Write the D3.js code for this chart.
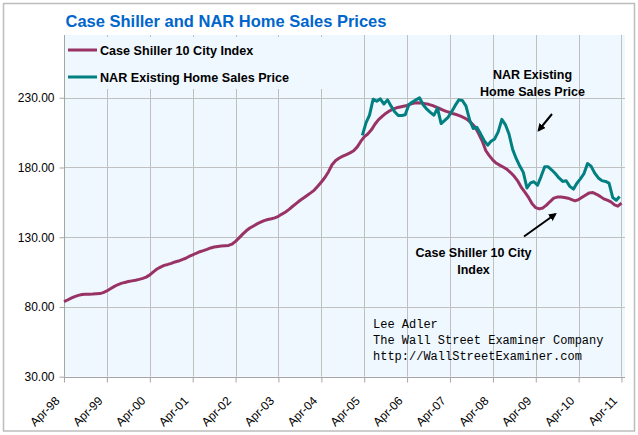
<!DOCTYPE html>
<html>
<head>
<meta charset="utf-8">
<script src="https://cdn.jsdelivr.net/npm/d3@7"></script>
<style>
  body { margin: 0; background: #fff; }
  svg { display: block; font-family: "Liberation Sans", Arial, sans-serif; }
</style>
</head>
<body>
<div id="chart-area"></div>
<script>
// Case Shiller 10 City index, monthly from Apr-98
var csStart = "1998-04-01";
var csValues = [
  83.8, 85.0, 86.3, 87.4, 88.3, 88.9, 89.1, 89.2, 89.3, 89.5, 89.6, 90.3,
  91.5, 93.0, 94.6, 95.9, 96.9, 97.6, 98.2, 98.7, 99.2, 99.8, 100.5, 101.4,
  103.0, 105.2, 107.2, 108.6, 109.8, 110.5, 111.3, 112.3, 112.9, 114.0, 114.9, 116.2,
  117.3, 118.5, 119.6, 120.4, 121.3, 122.3, 123.0, 123.4, 123.7, 123.9, 124.1, 125.0,
  127.0, 129.5, 132.2, 134.6, 136.6, 138.1, 139.6, 140.8, 141.9, 142.7, 143.3, 143.9,
  145.0, 146.6, 148.1, 150.0, 152.2, 154.3, 156.3, 158.1, 159.9, 161.8, 163.8, 166.5,
  169.6, 172.8, 177.0, 182.0, 185.0, 186.8, 188.1, 189.3, 190.5, 192.0, 194.8, 198.5,
  202.0, 204.0, 207.0, 211.0, 214.3, 216.7, 218.8, 220.5, 221.8, 222.8, 223.4, 223.9,
  224.5, 225.5, 226.2, 226.4, 226.2, 225.8, 225.3, 224.5, 223.4, 222.3, 221.2, 220.2,
  219.4, 218.5, 217.8, 216.8, 215.6, 214.0, 211.8, 209.0, 204.3, 199.0, 192.0, 188.5,
  185.3, 183.0, 181.5, 180.2, 178.5, 176.2, 173.5, 170.0, 165.5, 162.0, 158.2, 154.0,
  151.2, 150.3, 151.0, 153.0, 155.6, 158.0, 158.8, 158.8, 158.5, 158.0, 157.0, 156.1,
  157.0, 158.6, 160.3, 161.8, 162.0, 160.8, 159.3, 157.5, 156.6, 155.3, 153.2, 152.3,
  154.5
];

// NAR existing home sales median price ($000), monthly from Mar-05
var narStart = "2005-03-16";
var narValues = [
  203.0, 212.0, 217.5, 229.0, 227.5, 229.2, 225.5, 228.5, 224.0, 220.0, 217.3, 217.3,
  217.8, 225.0, 227.0, 228.5, 230.0, 225.0, 221.8, 219.5, 217.5, 222.5, 211.5, 213.8,
  216.0, 220.0, 224.5, 228.5, 228.0, 224.0, 214.0, 208.0, 208.8, 204.5, 199.5, 196.0,
  198.8, 200.5, 205.5, 214.5, 210.8, 204.0, 193.0, 186.5, 181.0, 176.5, 165.3, 169.0,
  169.8, 167.3, 173.5, 180.5, 180.5, 178.2, 175.5, 172.5, 170.0, 170.5, 166.5, 164.5,
  168.5, 171.8, 175.5, 182.8, 181.0, 176.0, 172.5, 170.6, 170.0, 168.8, 158.5, 156.5,
  159.2
];

var seriesNames = ["Case Shiller 10 City Index", "NAR Existing Home Sales Price"];
var seriesColors = ["#993366", "#008080"];

var yTicks = [30, 80, 130, 180, 230];
var xTickYears = [1998, 1999, 2000, 2001, 2002, 2003, 2004, 2005, 2006, 2007, 2008, 2009, 2010, 2011];

var parse = d3.utcParse("%Y-%m-%d");

function toSeries(start, values) {
    var s = parse(start);
    return values.map((v, i) => {
        return {date: d3.utcMonth.offset(s, i), value: v};
    });
}

var csData = toSeries(csStart, csValues);
var narData = toSeries(narStart, narValues);

var W = 638, H = 435;
var pLeft = 64, pRight = 625, pTop = 35, pBottom = 376.7;

var svg = d3.select("#chart-area").append("svg")
    .attr("width", W)
    .attr("height", H);

// outer border
svg.append("rect")
    .attr("x", 3.5).attr("y", 3.5)
    .attr("width", 631).attr("height", 427.5)
    .attr("fill", "#fff")
    .attr("stroke", "#bdbdbd")
    .attr("stroke-width", 1.5);

var x = d3.scaleUtc()
    .domain([new Date(Date.UTC(1998, 3, 1)), new Date(Date.UTC(2011, 4, 1))])
    .range([pLeft, pRight]);

var y = d3.scaleLinear()
    .domain([30, 275])
    .range([pBottom, pTop]);

var xTicks = xTickYears.map((yr) => { return new Date(Date.UTC(yr, 3, 1)); });

// plot background
svg.append("rect")
    .attr("x", pLeft).attr("y", pTop)
    .attr("width", pRight - pLeft).attr("height", pBottom - pTop)
    .attr("fill", "#eff7ff");

// grid
svg.append("g").selectAll("line").data(xTicks).enter()
    .append("line")
        .attr("x1", (d) => { return Math.round(x(d)) + 0.5; })
        .attr("x2", (d) => { return Math.round(x(d)) + 0.5; })
        .attr("y1", pTop).attr("y2", pBottom)
        .attr("stroke", "#c0c0c0");

svg.append("g").selectAll("line").data(yTicks).enter()
    .append("line")
        .attr("x1", pLeft).attr("x2", pRight)
        .attr("y1", (d) => { return Math.round(y(d)) + 0.5; })
        .attr("y2", (d) => { return Math.round(y(d)) + 0.5; })
        .attr("stroke", "#c0c0c0");

// legend box hides the grid behind it
svg.append("rect")
    .attr("x", pLeft + 1).attr("y", 37)
    .attr("width", 297).attr("height", 52)
    .attr("fill", "#eff7ff");

// axes
var yAxis = d3.axisLeft(y)
    .tickValues(yTicks)
    .tickSize(5)
    .tickPadding(5)
    .tickFormat(d3.format(".2f"));

var gy = svg.append("g")
    .attr("transform", "translate(" + (pLeft + 0.5) + ",0)")
    .call(yAxis);

var xAxis = d3.axisBottom(x)
    .tickValues(xTicks)
    .tickSize(5)
    .tickFormat(d3.utcFormat("%b-%y"));

var gx = svg.append("g")
    .attr("transform", "translate(0," + (Math.round(pBottom) + 0.5) + ")")
    .call(xAxis);

gx.selectAll("text")
    .attr("text-anchor", "end")
    .attr("dy", null)
    .attr("y", null)
    .attr("transform", "translate(-4,24) rotate(-45)");

[gx, gy].forEach((g) => {
    g.select(".domain").attr("stroke", "#a6a6a6");
    g.selectAll(".tick line").attr("stroke", "#a6a6a6");
    g.selectAll("text")
        .attr("fill", "#000")
        .style("font-family", "'Liberation Sans', Arial, sans-serif")
        .style("font-size", "12px");
});
gx.select(".domain").attr("d", "M" + pLeft + ",0H" + pRight);
gy.select(".domain").attr("d", "M0," + pBottom + "V" + pTop);

// lines
var line = d3.line()
    .x((d) => { return x(d.date); })
    .y((d) => { return y(d.value); });

[csData, narData].forEach((data, i) => {
    svg.append("path")
        .datum(data)
        .attr("fill", "none")
        .attr("stroke", seriesColors[i])
        .attr("stroke-width", 3)
        .attr("stroke-linejoin", "round")
        .attr("d", line);
});

// title
svg.append("text")
    .attr("x", 65.5).attr("y", 27)
    .attr("fill", "#0066cc")
    .style("font-weight", "bold")
    .style("font-size", "16.5px")
    .text("Case Shiller and NAR Home Sales Prices");

// legend
var legend = svg.append("g").selectAll("g").data(seriesNames).enter()
    .append("g")
        .attr("transform", (d, i) => { return "translate(68," + (50 + i * 27) + ")"; });

legend.append("line")
    .attr("x1", 0).attr("x2", 29)
    .attr("y1", 0).attr("y2", 0)
    .attr("stroke", (d, i) => { return seriesColors[i]; })
    .attr("stroke-width", 3);

legend.append("text")
    .attr("x", 32).attr("y", 4.5)
    .style("font-weight", "bold")
    .style("font-size", "12.6px")
    .attr("fill", "#000")
    .text((d) => { return d; });

// annotations
var defs = svg.append("defs");
defs.append("marker")
    .attr("id", "arrow")
    .attr("viewBox", "0 0 10 10")
    .attr("refX", 8).attr("refY", 5)
    .attr("markerWidth", 4).attr("markerHeight", 4)
    .attr("orient", "auto")
    .append("path")
        .attr("d", "M0,0L10,5L0,10Z")
        .attr("fill", "#000");

var notes = svg.append("g")
    .style("font-weight", "bold")
    .style("font-size", "12.5px")
    .attr("text-anchor", "middle")
    .attr("fill", "#000");

notes.append("text").attr("x", 532.5).attr("y", 79).text("NAR Existing");
notes.append("text").attr("x", 532.5).attr("y", 95.5).text("Home Sales Price");
notes.append("text").attr("x", 473.5).attr("y", 257).text("Case Shiller 10 City");
notes.append("text").attr("x", 473.5).attr("y", 273.5).text("Index");

svg.append("line")
    .attr("x1", 552).attr("y1", 114)
    .attr("x2", 538.5).attr("y2", 130.5)
    .attr("stroke", "#000").attr("stroke-width", 2)
    .attr("marker-end", "url(#arrow)");

svg.append("line")
    .attr("x1", 524).attr("y1", 236.5)
    .attr("x2", 555.5).attr("y2", 214)
    .attr("stroke", "#000").attr("stroke-width", 2)
    .attr("marker-end", "url(#arrow)");

// credit block
var credit = ["Lee Adler", "The Wall Street Examiner Company", "http://WallStreetExaminer.com"];
svg.append("g").selectAll("text").data(credit).enter()
    .append("text")
        .attr("x", 373)
        .attr("y", (d, i) => { return 327.5 + i * 16; })
        .style("font-family", "'Liberation Mono', 'Courier New', monospace")
        .style("font-size", "12px")
        .attr("fill", "#000")
        .text((d) => { return d; });
</script>
</body>
</html>
